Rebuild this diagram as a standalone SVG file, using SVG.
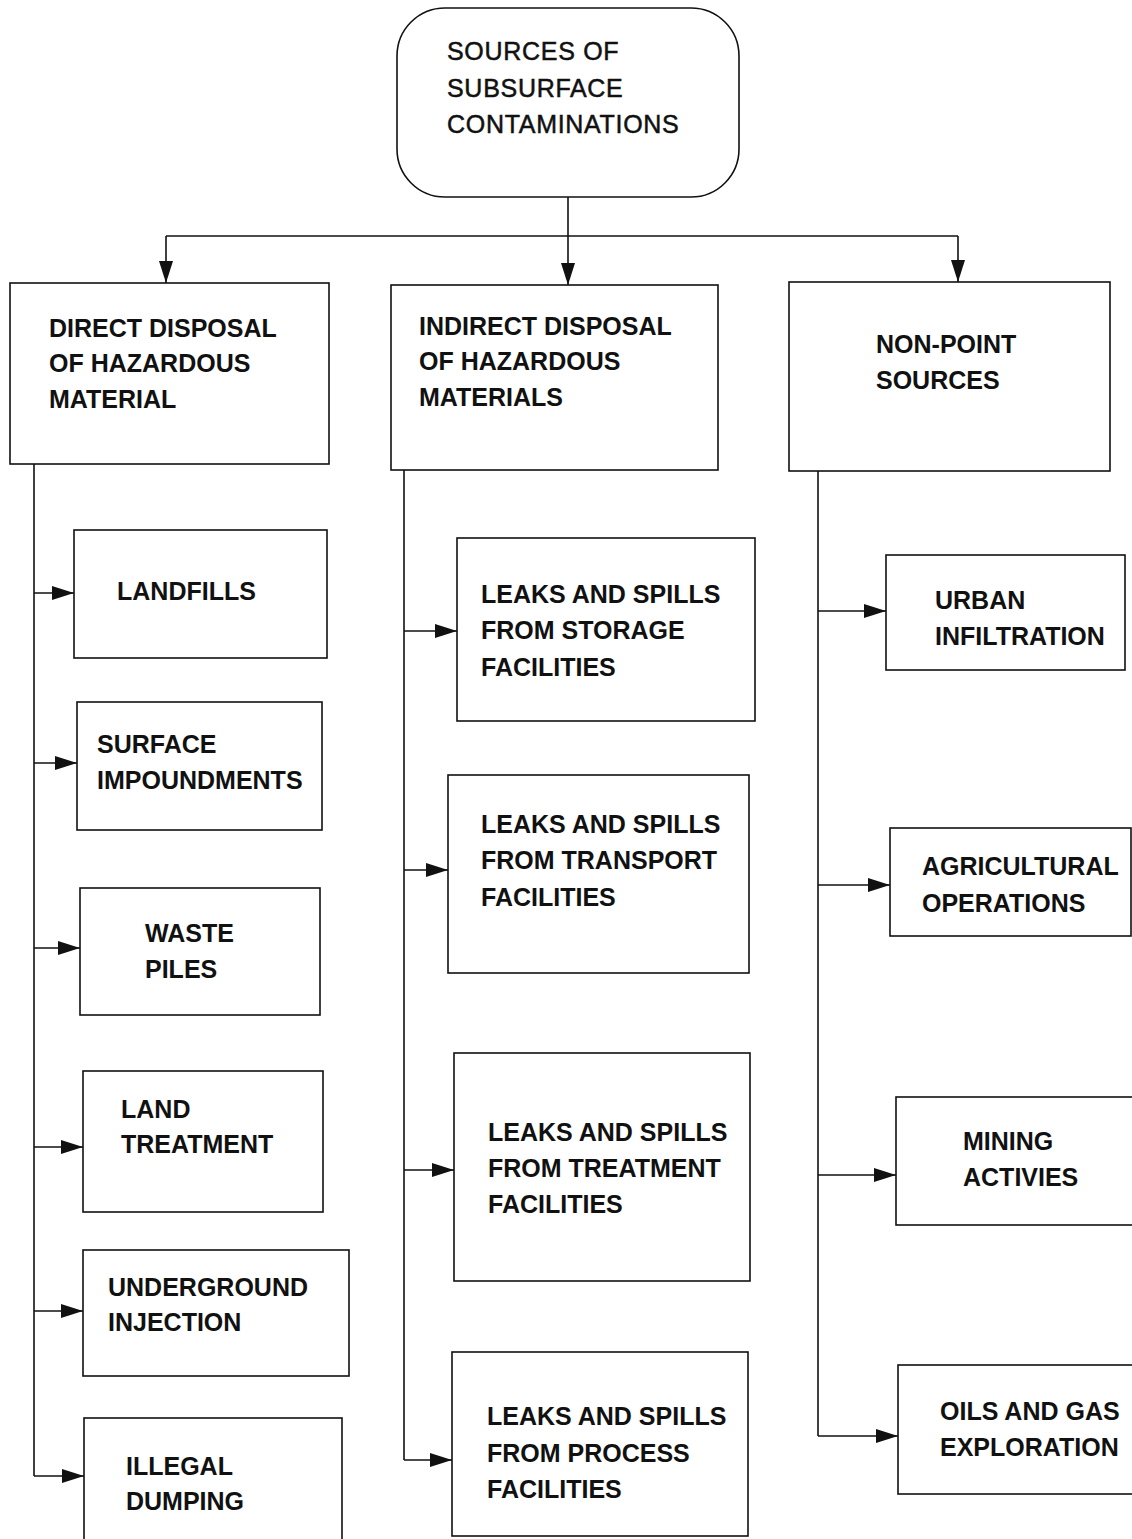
<svg xmlns="http://www.w3.org/2000/svg" width="1132" height="1539" viewBox="0 0 1132 1539">
<style>
.box{fill:#fff;stroke:#111;stroke-width:1.6}
.t{font-family:"Liberation Sans",Arial,sans-serif;font-size:25px;font-weight:bold;fill:#111}
.tr{font-family:"Liberation Sans",Arial,sans-serif;font-size:25px;fill:#111;stroke:#111;stroke-width:0.5;letter-spacing:0.7px}
.c{fill:none;stroke:#111;stroke-width:1.6}
</style>
<defs>
<marker id="ah" markerUnits="userSpaceOnUse" markerWidth="23" markerHeight="14" refX="22" refY="7" orient="auto">
<path d="M0,0 L22,7 L0,14 z" fill="#111"/>
</marker>
</defs>
<rect width="1132" height="1539" fill="#fff"/>

<g id="connectors">
<path class="c" d="M568,197 V236"/>
<path class="c" d="M166,236 H958"/>
<path class="c" d="M166,236 V283" marker-end="url(#ah)"/>
<path class="c" d="M568,236 V285" marker-end="url(#ah)"/>
<path class="c" d="M958,236 V282" marker-end="url(#ah)"/>

<path class="c" d="M34,464 V1476"/>
<path class="c" d="M34,593 H74" marker-end="url(#ah)"/>
<path class="c" d="M34,763 H77" marker-end="url(#ah)"/>
<path class="c" d="M34,948 H80" marker-end="url(#ah)"/>
<path class="c" d="M34,1147 H83" marker-end="url(#ah)"/>
<path class="c" d="M34,1311 H83" marker-end="url(#ah)"/>
<path class="c" d="M34,1476 H84" marker-end="url(#ah)"/>

<path class="c" d="M404,470 V1460"/>
<path class="c" d="M404,631 H457" marker-end="url(#ah)"/>
<path class="c" d="M404,870 H448" marker-end="url(#ah)"/>
<path class="c" d="M404,1170 H454" marker-end="url(#ah)"/>
<path class="c" d="M404,1460 H452" marker-end="url(#ah)"/>

<path class="c" d="M818,471 V1436"/>
<path class="c" d="M818,611 H886" marker-end="url(#ah)"/>
<path class="c" d="M818,885 H890" marker-end="url(#ah)"/>
<path class="c" d="M818,1175 H896" marker-end="url(#ah)"/>
<path class="c" d="M818,1436 H898" marker-end="url(#ah)"/>
</g>

<g id="root">
<rect class="box" x="397" y="8" width="342" height="189" rx="48" ry="48"/>
<text class="tr" x="447" y="60">SOURCES OF</text>
<text class="tr" x="447" y="97">SUBSURFACE</text>
<text class="tr" x="447" y="133">CONTAMINATIONS</text>
</g>

<g id="direct">
<rect class="box" x="10" y="283" width="319" height="181"/>
<text class="t" x="49" y="337">DIRECT DISPOSAL</text>
<text class="t" x="49" y="372">OF HAZARDOUS</text>
<text class="t" x="49" y="408">MATERIAL</text>
</g>
<g id="indirect">
<rect class="box" x="391" y="285" width="327" height="185"/>
<text class="t" x="419" y="335">INDIRECT DISPOSAL</text>
<text class="t" x="419" y="370">OF HAZARDOUS</text>
<text class="t" x="419" y="406">MATERIALS</text>
</g>
<g id="nonpoint">
<rect class="box" x="789" y="282" width="321" height="189"/>
<text class="t" x="876" y="353">NON-POINT</text>
<text class="t" x="876" y="389">SOURCES</text>
</g>

<g id="landfills">
<rect class="box" x="74" y="530" width="253" height="128"/>
<text class="t" x="117" y="600">LANDFILLS</text>
</g>
<g id="surface">
<rect class="box" x="77" y="702" width="245" height="128"/>
<text class="t" x="97" y="753">SURFACE</text>
<text class="t" x="97" y="789">IMPOUNDMENTS</text>
</g>
<g id="waste">
<rect class="box" x="80" y="888" width="240" height="127"/>
<text class="t" x="145" y="942">WASTE</text>
<text class="t" x="145" y="978">PILES</text>
</g>
<g id="landtreatment">
<rect class="box" x="83" y="1071" width="240" height="141"/>
<text class="t" x="121" y="1118">LAND</text>
<text class="t" x="121" y="1153">TREATMENT</text>
</g>
<g id="underground">
<rect class="box" x="83" y="1250" width="266" height="126"/>
<text class="t" x="108" y="1296">UNDERGROUND</text>
<text class="t" x="108" y="1331">INJECTION</text>
</g>
<g id="illegal">
<rect class="box" x="84" y="1418" width="258" height="130"/>
<text class="t" x="126" y="1475">ILLEGAL</text>
<text class="t" x="126" y="1510">DUMPING</text>
</g>

<g id="storage">
<rect class="box" x="457" y="538" width="298" height="183"/>
<text class="t" x="481" y="603">LEAKS AND SPILLS</text>
<text class="t" x="481" y="639">FROM STORAGE</text>
<text class="t" x="481" y="676">FACILITIES</text>
</g>
<g id="transport">
<rect class="box" x="448" y="775" width="301" height="198"/>
<text class="t" x="481" y="833">LEAKS AND SPILLS</text>
<text class="t" x="481" y="869">FROM TRANSPORT</text>
<text class="t" x="481" y="906">FACILITIES</text>
</g>
<g id="treatment">
<rect class="box" x="454" y="1053" width="296" height="228"/>
<text class="t" x="488" y="1141">LEAKS AND SPILLS</text>
<text class="t" x="488" y="1177">FROM TREATMENT</text>
<text class="t" x="488" y="1213">FACILITIES</text>
</g>
<g id="process">
<rect class="box" x="452" y="1352" width="296" height="184"/>
<text class="t" x="487" y="1425">LEAKS AND SPILLS</text>
<text class="t" x="487" y="1462">FROM PROCESS</text>
<text class="t" x="487" y="1498">FACILITIES</text>
</g>

<g id="urban">
<rect class="box" x="886" y="555" width="239" height="115"/>
<text class="t" x="935" y="609">URBAN</text>
<text class="t" x="935" y="645">INFILTRATION</text>
</g>
<g id="agricultural">
<rect class="box" x="890" y="828" width="241" height="108"/>
<text class="t" x="922" y="875">AGRICULTURAL</text>
<text class="t" x="922" y="912">OPERATIONS</text>
</g>
<g id="mining">
<rect class="box" x="896" y="1097" width="250" height="128"/>
<text class="t" x="963" y="1150">MINING</text>
<text class="t" x="963" y="1186">ACTIVIES</text>
</g>
<g id="oils">
<rect class="box" x="898" y="1365" width="250" height="129"/>
<text class="t" x="940" y="1420">OILS AND GAS</text>
<text class="t" x="940" y="1456">EXPLORATION</text>
</g>
</svg>
